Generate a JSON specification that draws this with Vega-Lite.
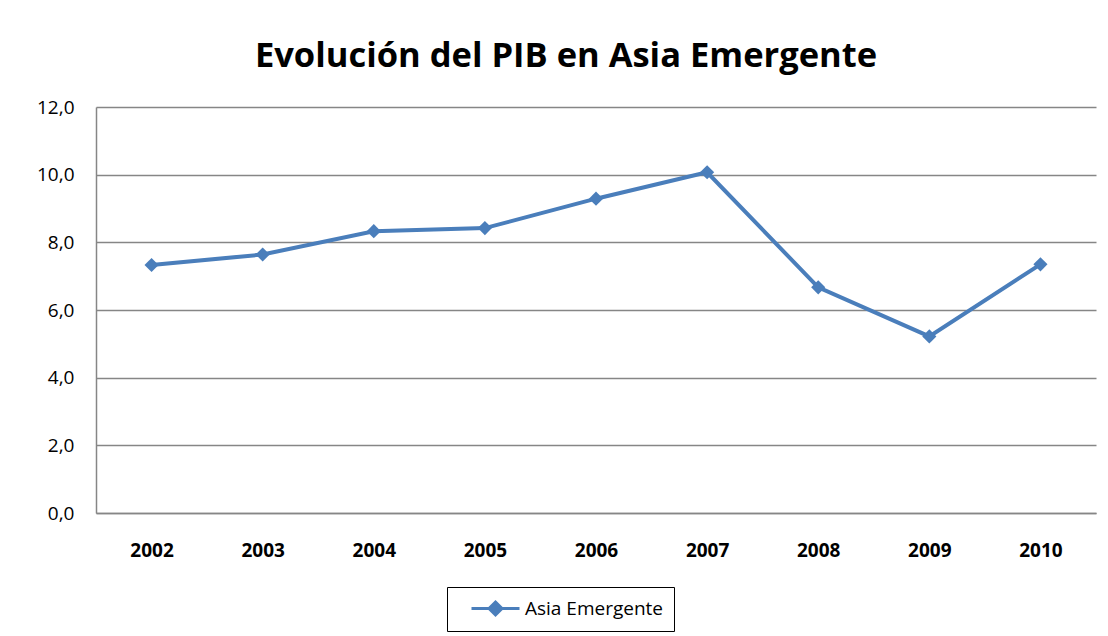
{
  "$schema": "https://vega.github.io/schema/vega-lite/v6.json",
  "width": 1000,
  "height": 406,
  "autosize": {"type": "none"},
  "padding": {"left": 96, "top": 107, "right": 12, "bottom": 123},
  "background": "white",
  "title": {"text": "Evolución del PIB en Asia Emergente", "font": "Open Sans", "fontSize": 34.5, "fontWeight": "bold", "color": "#000000", "anchor": "middle", "dx": -30, "offset": 24},
  "data": {"values": [
    {"year": "2002", "value": 7.33, "series": "Asia Emergente"},
    {"year": "2003", "value": 7.64, "series": "Asia Emergente"},
    {"year": "2004", "value": 8.33, "series": "Asia Emergente"},
    {"year": "2005", "value": 8.42, "series": "Asia Emergente"},
    {"year": "2006", "value": 9.29, "series": "Asia Emergente"},
    {"year": "2007", "value": 10.07, "series": "Asia Emergente"},
    {"year": "2008", "value": 6.67, "series": "Asia Emergente"},
    {"year": "2009", "value": 5.22, "series": "Asia Emergente"},
    {"year": "2010", "value": 7.35, "series": "Asia Emergente"}
  ]},
  "mark": {"type": "line", "strokeWidth": 4, "point": {"shape": "diamond", "size": 200, "filled": true}},
  "encoding": {
    "x": {"field": "year", "type": "ordinal", "title": null,
      "axis": {"labelAngle": 0, "labelFont": "Open Sans", "labelFontSize": 19, "labelFontWeight": "bold", "labelColor": "#000000", "ticks": false, "domainColor": "#868686", "domainWidth": 1.5, "labelPadding": 28, "grid": false}},
    "y": {"field": "value", "type": "quantitative", "title": null,
      "scale": {"domain": [0, 12], "nice": false},
      "axis": {"values": [0, 2, 4, 6, 8, 10, 12], "labelExpr": "replace(format(datum.value, '.1f'), '.', ',')", "labelFont": "Open Sans", "labelFontSize": 19, "labelColor": "#000000", "ticks": false, "domainColor": "#868686", "domainWidth": 1.5, "gridColor": "#868686", "gridWidth": 1.5, "gridOpacity": 1, "labelPadding": 22}},
    "color": {"field": "series", "type": "nominal", "title": null,
      "scale": {"range": ["#4A7EBB"]},
      "legend": {"orient": "none", "legendX": 351, "legendY": 480, "strokeColor": "#000000", "padding": 10, "symbolOffset": 27,
        "symbolType": "M-2.4,0H2.4M0,-0.65L0.65,0L0,0.65L-0.65,0Z", "symbolSize": 400, "symbolStrokeWidth": 3, "symbolFillColor": "#4A7EBB", "symbolStrokeColor": "#4A7EBB",
        "labelFont": "Open Sans", "labelFontSize": 19, "labelColor": "#000000", "labelOffset": 18}}
  },
  "config": {"view": {"stroke": null}}
}
